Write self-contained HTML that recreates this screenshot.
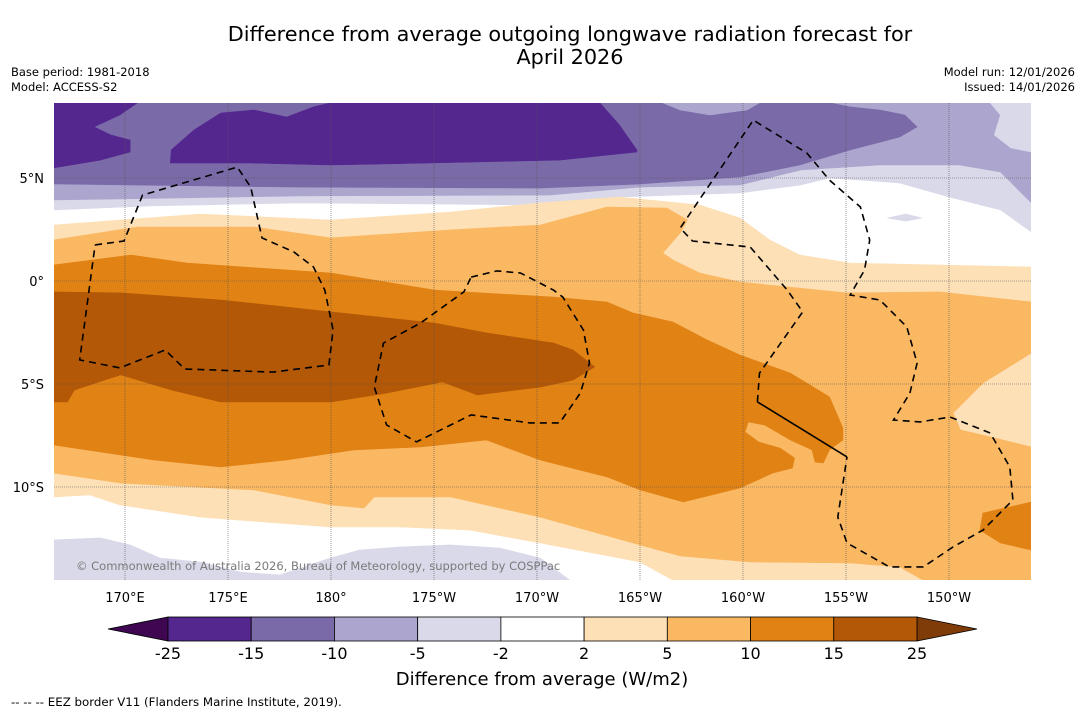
<!DOCTYPE html>
<html><head><meta charset="utf-8"><style>
body{margin:0;background:#fff;font-family:"DejaVu Sans","Liberation Sans",sans-serif;}
svg{display:block;font-family:"DejaVu Sans","Liberation Sans",sans-serif;}
</style></head><body>
<svg id="chart" width="1085" height="713" viewBox="0 0 1085 713" xmlns="http://www.w3.org/2000/svg">
<text x="570" y="41" font-size="20.8" text-anchor="middle" fill="#000">Difference from average outgoing longwave radiation forecast for</text>
<text x="570" y="64" font-size="20.8" text-anchor="middle" fill="#000">April 2026</text>
<text x="11" y="76" font-size="11.5">Base period: 1981-2018</text>
<text x="11" y="91" font-size="11.5">Model: ACCESS-S2</text>
<text x="1075" y="76" font-size="11.5" text-anchor="end">Model run: 12/01/2026</text>
<text x="1075" y="91" font-size="11.5" text-anchor="end">Issued: 14/01/2026</text>
<defs><clipPath id="mapclip"><rect x="54" y="103" width="977" height="477"/></clipPath></defs>
<g id="map" clip-path="url(#mapclip)"></g>
<g id="axes"></g>
<g id="cbar"></g>
<text x="542" y="685" font-size="18" text-anchor="middle">Difference from average (W/m2)</text>
<text x="11" y="706" font-size="11.8">--  --  -- EEZ border V11 (Flanders Marine Institute, 2019).</text>
</svg>
<script>
// ---- data (lon in degrees east 0-360, lat in degrees) ----
const lonTicks=[170,175,180,185,190,195,200,205,210];
const lonTickLabels=["170°E","175°E","180°","175°W","170°W","165°W","160°W","155°W","150°W"];
const latTicks=[5,0,-5,-10];
const latTickLabels=["5°N","0°","5°S","10°S"];
const cbLevels=[-25,-15,-10,-5,-2,2,5,10,15,25];
const cbColors=["#54278f","#7b6aa8","#aca6cf","#d9d9ea","#ffffff","#fde0b6","#fbb863","#e08214","#b35806"];
const cbLowColor="#3f0752", cbHighColor="#7f3b08";
const P1="#d9d9ea",P2="#aca6cf",P3="#7b6aa8",P4="#54278f",O1="#fde0b6",O2="#fbb863",O3="#e08214",O4="#b35806";
const TOP=8.65,BOT=-14.52,W0=166.55,E0=214.0;
const bandP1=[[W0,TOP],[W0,3.45],[171.2,3.64],[178.5,3.79],[190.6,3.69],[194.0,4.08],[199.85,4.27],[202.8,4.66],[204.2,5.0],[207.6,4.76],[210.0,4.08],[212.5,3.45],[E0,2.38],[E0,TOP]];
const blobP1=[[207.0,3.06],[207.9,3.25],[208.7,3.06],[207.9,2.91]];
const bandP2=[[W0,TOP],[W0,3.93],[178.5,4.13],[190.6,4.17],[195.0,4.56],[199.85,4.66],[202.8,5.39],[206.65,5.63],[210.5,5.63],[212.5,5.29],[E0,3.79],[E0,TOP]];
const patchP1=[[212.0,TOP],[E0,TOP],[E0,6.26],[213.0,6.46],[212.2,7.09],[212.5,8.06]];
const bandP3=[[W0,TOP],[W0,4.71],[178.5,4.56],[190.15,4.51],[195.0,4.71],[199.85,5.05],[202.75,5.63],[205.2,6.36],[207.6,6.99],[208.45,7.48],[207.85,8.06],[206.65,8.3],[205.2,8.45],[204.2,TOP]];
const patchP2=[[196.1,TOP],[196.95,8.3],[198.4,8.06],[200.2,8.3],[200.8,TOP]];
const bandP4a=[[W0,TOP],[170.6,TOP],[169.75,8.06],[168.5,7.48],[169.3,7.09],[170.25,6.84],[170.25,6.26],[168.8,5.87],[W0,5.49]];
const bandP4b=[[172.25,6.36],[173.35,7.33],[174.65,8.15],[176.25,8.3],[177.85,7.96],[179.15,8.45],[180,TOP],[193.05,TOP],[194.0,7.57],[194.85,6.36],[194.85,6.26],[191.1,5.87],[184.8,5.73],[179.95,5.63],[176.05,5.73],[172.2,5.73]];
const bandP1b=[[W0,-12.57],[168.8,-12.47],[170.25,-12.81],[171.7,-13.45],[173.65,-13.64],[175.6,-14.13],[177.5,-14.27],[179.95,-13.45],[181.4,-13.06],[183.35,-12.91],[185.8,-12.81],[188.2,-12.96],[190.15,-13.45],[191.85,BOT-0.2],[W0,BOT-0.2]];
const bandO1=[[W0,2.72],[173.65,3.25],[179.95,2.96],[185.8,3.35],[190.15,3.79],[194.0,4.08],[197.9,3.69],[199.85,3.06],[201.3,1.99],[202.75,1.26],[205.2,0.87],[E0,0.68],[E0,BOT-0.2],[196.95,BOT-0.2],[195.0,-13.64],[190.15,-12.72],[186.75,-12.09],[183.35,-11.94],[179.95,-11.94],[173.65,-11.46],[169.75,-10.87],[168.3,-10.39],[W0,-10.48]];
const bandO2=[[W0,1.99],[170.6,2.62],[176.25,2.62],[180,2.09],[185.8,2.48],[190.15,2.72],[193.4,3.59],[196.3,3.54],[197.3,2.96],[196.95,2.33],[196.1,1.36],[196.6,1.02],[197.9,0.39],[199.85,-0.05],[205.05,-0.58],[209.55,-0.53],[E0,-1.02],[E0,-3.49],[211.65,-4.95],[210.2,-6.41],[210.55,-7.23],[212.0,-7.57],[E0,-8.06],[E0,BOT-0.2],[209.1,BOT-0.2],[207.6,-13.88],[205.2,-13.69],[200.35,-13.64],[196.95,-13.35],[195.0,-12.81],[190.15,-11.46],[185.8,-10.48],[182.1,-10.48],[181.6,-11.02],[180,-10.87],[176.25,-10.14],[169.8,-9.81],[W0,-9.32]];
const bandO3=[[W0,0.78],[170.3,1.26],[173.0,0.87],[180,0.39],[185.0,-0.44],[190.8,-0.78],[193.4,-1.02],[194.65,-1.55],[196.6,-1.99],[198.25,-2.86],[199.85,-3.59],[202.3,-4.47],[204.2,-5.63],[204.85,-7.14],[204.85,-7.72],[204.2,-8.2],[203.9,-8.83],[203.5,-8.79],[203.35,-8.2],[202.3,-7.72],[201.05,-6.99],[200.25,-6.84],[200.1,-7.33],[200.75,-7.81],[201.8,-8.11],[202.5,-8.59],[202.4,-9.08],[201.45,-9.32],[199.85,-10.05],[197.1,-10.73],[195.0,-10.14],[193.4,-9.51],[190.15,-8.69],[187.55,-7.72],[184.35,-8.06],[181.1,-8.2],[177.85,-8.69],[174.65,-9.03],[171.4,-8.69],[W0,-7.96]];
const blobO3=[[211.65,-11.26],[E0,-10.73],[E0,-13.06],[212.5,-12.72],[211.5,-12.09]];
const bandO4=[[W0,-0.53],[169.8,-0.58],[174.65,-0.92],[180,-1.5],[185.0,-2.04],[187.55,-2.52],[190.8,-3.01],[191.75,-3.35],[192.8,-4.17],[191.75,-4.81],[190.15,-5.15],[187.1,-5.53],[185.4,-4.9],[182.7,-5.44],[180,-5.87],[174.65,-5.87],[172.25,-5.29],[169.8,-4.56],[169.0,-4.81],[167.55,-5.29],[167.2,-5.87],[W0,-5.87]];
const eezLeft=[[168.55,1.75],[169.95,1.94],[170.85,4.17],[175.45,5.53],[176.1,4.56],[176.65,2.09],[178.2,1.41],[179.15,0.68],[179.7,-0.44],[180.1,-2.38],[179.9,-4.08],[177.2,-4.42],[172.9,-4.27],[171.95,-3.35],[169.75,-4.22],[167.8,-3.83],[168.55,1.75]];
const eezMid=[[186.8,0.19],[188.05,0.49],[189.2,0.39],[190.8,-0.44],[191.25,-0.78],[192.25,-2.38],[192.55,-3.98],[192.1,-5.44],[191.1,-6.89],[189.65,-6.89],[186.8,-6.5],[184.15,-7.81],[182.7,-6.99],[182.1,-5.15],[182.55,-3.01],[184.35,-2.04],[186.45,-0.53],[186.8,0.19]];
const eezRightSolid=[[205.05,-8.54],[200.7,-5.87]];
const eezRight=[[200.7,-5.87],[200.8,-4.47],[202.9,-1.5],[202.15,-0.44],[200.35,1.65],[197.55,1.94],[196.95,2.57],[200.5,7.81],[203.1,6.21],[204.2,4.9],[205.7,3.59],[206.15,1.99],[205.9,0.53],[205.2,-0.68],[206.65,-0.92],[207.95,-2.23],[208.45,-3.98],[208.1,-5.44],[207.3,-6.75],[208.6,-6.84],[210.05,-6.6],[212.0,-7.38],[212.95,-9.03],[213.1,-10.63],[211.65,-12.09],[210.2,-12.91],[208.75,-13.88],[207.1,-13.88],[205.05,-12.72],[204.6,-11.46],[205.05,-8.54]];

// ---- axis functions ----
const SC=20.6;
function xOf(lon){return 331+(lon-180)*SC;}
function yOf(lat){return 281-lat*SC;}
const NS="http://www.w3.org/2000/svg";
const map=document.getElementById('map');
function pts(a){return a.map(p=>xOf(p[0]).toFixed(1)+','+yOf(p[1]).toFixed(1)).join(' ');}
function poly(a,fill,name){
  const e=document.createElementNS(NS,'polygon');
  e.setAttribute('points',pts(a));e.setAttribute('fill',fill);
  e.setAttribute('stroke',fill);e.setAttribute('stroke-width','0.6');
  
  
  map.appendChild(e);
}
const bg=document.createElementNS(NS,'rect');
bg.setAttribute('x',54);bg.setAttribute('y',103);bg.setAttribute('width',977);bg.setAttribute('height',477);bg.setAttribute('fill','#fff');


map.appendChild(bg);
poly(bandP1,P1,'band-minus2');
poly(blobP1,P1,'band-minus2-blob');
poly(bandP2,P2,'band-minus5');
poly(patchP1,P1,'band-minus2-patch');
poly(bandP3,P3,'band-minus10');
poly(patchP2,P2,'band-minus5-patch');
poly(bandP4a,P4,'band-minus15-west');
poly(bandP4b,P4,'band-minus15-main');
poly(bandP1b,P1,'band-minus2-south');
poly(bandO1,O1,'band-plus2');
poly(bandO2,O2,'band-plus5');
poly(bandO3,O3,'band-plus10');
poly(blobO3,O3,'band-plus10-east');
poly(bandO4,O4,'band-plus15');
// gridlines
lonTicks.forEach((l,i)=>{
  const g=document.createElementNS(NS,'line');
  g.setAttribute('x1',xOf(l));g.setAttribute('x2',xOf(l));g.setAttribute('y1',103);g.setAttribute('y2',580);
  g.setAttribute('stroke','#555');g.setAttribute('stroke-width','0.6');g.setAttribute('stroke-dasharray','1,1');
  
  
  map.appendChild(g);
});
latTicks.forEach((l,i)=>{
  const g=document.createElementNS(NS,'line');
  g.setAttribute('y1',yOf(l));g.setAttribute('y2',yOf(l));g.setAttribute('x1',54);g.setAttribute('x2',1031);
  g.setAttribute('stroke','#555');g.setAttribute('stroke-width','0.6');g.setAttribute('stroke-dasharray','1,1');
  
  
  map.appendChild(g);
});
function line(a,dash,name){
  const e=document.createElementNS(NS,'polyline');
  e.setAttribute('points',pts(a));e.setAttribute('fill','none');e.setAttribute('stroke','#000');
  e.setAttribute('stroke-width','1.6');if(dash)e.setAttribute('stroke-dasharray','7,5');
  
  
  map.appendChild(e);
}
line(eezLeft,true,'eez-border-west');
line(eezMid,true,'eez-border-central');
line(eezRightSolid,false,'eez-border-east-solid');
line(eezRight,true,'eez-border-east');
const wm=document.createElementNS(NS,'text');
wm.setAttribute('x',76);wm.setAttribute('y',570);wm.setAttribute('font-size','11.5');wm.setAttribute('fill','#7a7a7a');
wm.textContent='© Commonwealth of Australia 2026, Bureau of Meteorology, supported by COSPPac';


map.appendChild(wm);
// axes labels
const axes=document.getElementById('axes');
lonTicks.forEach((l,i)=>{
  const t=document.createElementNS(NS,'text');
  t.setAttribute('x',xOf(l));t.setAttribute('y',602);t.setAttribute('font-size','13');t.setAttribute('text-anchor','middle');
  t.textContent=lonTickLabels[i];
  
  
  axes.appendChild(t);
});
latTicks.forEach((l,i)=>{
  const t=document.createElementNS(NS,'text');
  t.setAttribute('x',44);t.setAttribute('y',yOf(l)+5);t.setAttribute('font-size','13');t.setAttribute('text-anchor','end');
  t.textContent=latTickLabels[i];
  
  
  axes.appendChild(t);
});
// colorbar
const cb=document.getElementById('cbar');
const cbX0=168,cbX1=917,cbY=617,cbH=24,nB=cbColors.length,bw=(cbX1-cbX0)/nB;
function cbx(i){return cbX0+i*bw;}
const lt=document.createElementNS(NS,'polygon');
lt.setAttribute('points',`108,${cbY+cbH/2} ${cbX0},${cbY} ${cbX0},${cbY+cbH}`);lt.setAttribute('fill',cbLowColor);lt.setAttribute('stroke','#000');lt.setAttribute('stroke-width','0.8');


cb.appendChild(lt);
const rt=document.createElementNS(NS,'polygon');
rt.setAttribute('points',`${cbX1},${cbY} 977,${cbY+cbH/2} ${cbX1},${cbY+cbH}`);rt.setAttribute('fill',cbHighColor);rt.setAttribute('stroke','#000');rt.setAttribute('stroke-width','0.8');


cb.appendChild(rt);
cbColors.forEach((c,i)=>{
  const r=document.createElementNS(NS,'rect');
  r.setAttribute('x',cbx(i));r.setAttribute('y',cbY);r.setAttribute('width',bw);r.setAttribute('height',cbH);
  r.setAttribute('fill',c);r.setAttribute('stroke','#000');r.setAttribute('stroke-width','0.8');
  
  
  cb.appendChild(r);
});
cbLevels.forEach((v,i)=>{
  const t=document.createElementNS(NS,'text');
  t.setAttribute('x',cbx(i));t.setAttribute('y',659);t.setAttribute('font-size','16');t.setAttribute('text-anchor','middle');
  t.textContent=String(v);
  
  
  cb.appendChild(t);
});
</script>
</body></html>
